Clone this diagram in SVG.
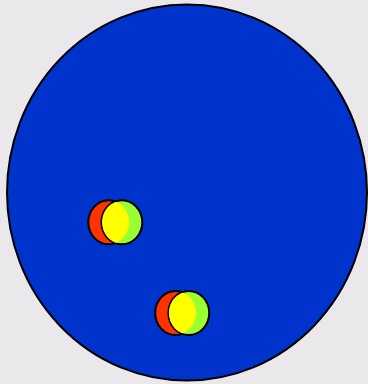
<svg xmlns="http://www.w3.org/2000/svg" width="368" height="384" viewBox="0 0 368 384">
  <style>
    .outline { stroke: #000; stroke-width: 2; }
    .body { fill: #0033cc; }
    .red { fill: #ff3300; }
    .green { fill: #99ff33; }
    .yellow { fill: #ffff00; stroke: none; }
  </style>
  <defs>
    <clipPath id="lensClip">
      <ellipse cx="-6.6" cy="0" rx="20.4" ry="22"/>
    </clipPath>
    <g id="ball">
      <ellipse class="red outline" cx="-6.6" cy="0" rx="20.4" ry="22"/>
      <ellipse class="green outline" cx="6.6" cy="0" rx="20.4" ry="22"/>
      <ellipse class="yellow" cx="6.6" cy="0" rx="19.9" ry="21.5" clip-path="url(#lensClip)"/>
    </g>
  </defs>
  <rect width="368" height="384" fill="#ebe8eb"/>
  <g id="cell">
    <ellipse class="body outline" cx="187" cy="192.5" rx="180" ry="188"/>
  </g>
  <g id="particle1" transform="translate(115.3,222.3)">
    <use href="#ball"/>
  </g>
  <g id="particle2" transform="translate(182.2,313)">
    <use href="#ball"/>
  </g>
  <g id="connectors"/>
</svg>
